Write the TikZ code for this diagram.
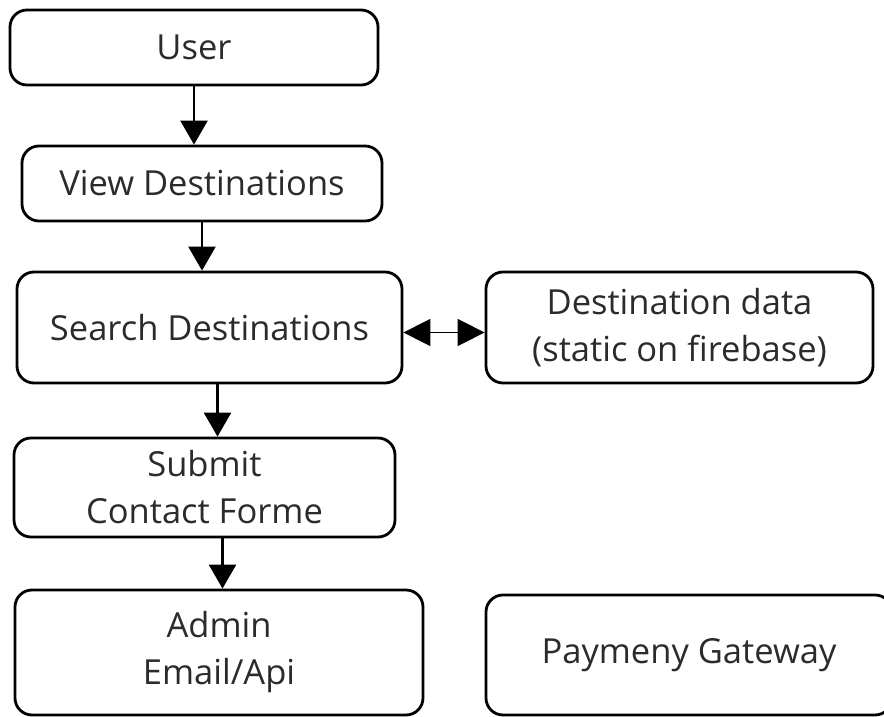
\documentclass[tikz,border=0pt]{standalone}
\usepackage{fontspec}
\setmainfont{Open Sans}
\usetikzlibrary{arrows.meta}
\definecolor{inkgray}{HTML}{2B2B2B}
\tikzset{
  stage/.style={draw, line width=2.8pt, rounded corners=17pt, align=center, text=inkgray, font=\fontsize{34.5}{47}\selectfont, inner sep=0pt},
  flow/.style={line width=2.5pt, -{Triangle[width=27pt,length=24pt]}},
}
\begin{document}
\begin{tikzpicture}[x=1pt,y=-1pt]
\clip (0,0) rectangle (884,717);
\useasboundingbox (0,0) rectangle (884,717);
\node[stage, minimum width=368pt, minimum height=75pt] (user) at (194,47.5) {User};
\node[stage, minimum width=360pt, minimum height=75pt] (view) at (202,183.5) {View Destinations};
\node[stage, minimum width=385pt, minimum height=111pt] (search) at (209.5,327.5) {Search Destinations};
\node[stage, minimum width=387pt, minimum height=111pt] (dest) at (679.5,327.5) {Destination data\\(static on firebase)};
\node[stage, minimum width=381pt, minimum height=99pt] (submit) at (204.5,487.5) {Submit\\Contact Forme};
\node[stage, minimum width=408pt, minimum height=125pt] (admin) at (219,652.5) {Admin\\Email/Api};
\node[stage, minimum width=406pt, minimum height=120pt] (pay) at (689,655) {Paymeny Gateway};
\draw[flow] (user.south) -- (user.south |- view.north);
\draw[flow] (view.south) -- (view.south |- search.north);
\draw[flow] ([xshift=8pt]search.south) -- ([xshift=8pt]search.south |- submit.north);
\draw[flow] ([xshift=18pt]submit.south) -- ([xshift=18pt]submit.south |- admin.north);
\draw[line width=1.5pt, {Triangle[width=27pt,length=27pt]}-{Triangle[width=27pt,length=27pt]}] ([yshift=-5pt]search.east) -- ([yshift=-5pt]search.east -| dest.west);
\end{tikzpicture}
\end{document}
